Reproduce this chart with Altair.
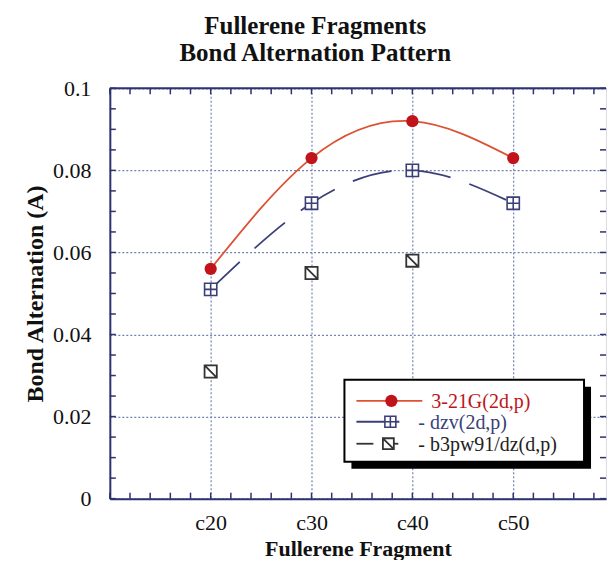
import altair as alt
import pandas as pd

# ---- data ----
fragments = ["c20", "c30", "c40", "c50"]
frag_size = [20, 30, 40, 50]
g321 = [0.056, 0.083, 0.092, 0.083]          # 3-21G(2d,p)
dzv = [0.051, 0.072, 0.080, 0.072]           # dzv(2d,p)
b3_size = [20, 30, 40]
b3pw91 = [0.031, 0.055, 0.058]               # b3pw91/dz(d,p)
legend_labels = ["3-21G(2d,p)", "- dzv(2d,p)", "- b3pw91/dz(d,p)"]
x_ticks = [20, 30, 40, 50]
y_ticks = [0, 0.02, 0.04, 0.06, 0.08, 0.1]
x_minor = [10, 12, 14, 16, 18, 20, 22, 24, 26, 28, 30, 32, 34, 36, 38, 40,
           42, 44, 46, 48, 50, 52, 54, 56, 58]
y_minor = [0, 0.005, 0.01, 0.015, 0.02, 0.025, 0.03, 0.035, 0.04, 0.045, 0.05,
           0.055, 0.06, 0.065, 0.07, 0.075, 0.08, 0.085, 0.09, 0.095, 0.1]

W, H = 497, 411
FONT = "Liberation Serif"
NAVY = "#2d3270"
RED_LINE = "#dc5232"
RED_PT = "#c0141a"
DZV_COL = "#3a3f78"
B3_COL = "#333333"
GRID = "#7482b4"

SQ_PLUS = "M-1,-1H1V1H-1Z M0,-1V1 M-1,0H1"
SQ_SLASH = "M-1,-1H1V1H-1Z M-1,-1L1,1"

main = pd.DataFrame({"frag": fragments, "n": frag_size, "g321": g321, "dzv": dzv})
b3 = pd.DataFrame({"n": b3_size, "v": b3pw91})
xm = pd.DataFrame({"n": x_minor})
ym = pd.DataFrame({"v": y_minor})
one = pd.DataFrame({"k": [0]})

x_scale = alt.Scale(domain=[10, 59.2], nice=False, zero=False)
y_scale = alt.Scale(domain=[0, 0.1], nice=False)

x_axis = alt.Axis(values=x_ticks, labelExpr="'c' + datum.value", grid=True,
                  gridDash=[2, 2], gridColor=GRID, gridWidth=1.2,
                  domain=True, domainColor=NAVY, domainWidth=2, ticks=False,
                  labelPadding=14, labelFont=FONT, labelFontSize=22, labelColor="#111",
                  title="Fullerene Fragment", titleFont=FONT, titleFontSize=22,
                  titleFontWeight="bold", titleColor="#111", titlePadding=5)
y_axis = alt.Axis(values=y_ticks, labelExpr="datum.value + ''", grid=True,
                  gridDash=[2, 2], gridColor=GRID, gridWidth=1.2,
                  domain=True, domainColor=NAVY, domainWidth=2, ticks=False,
                  labelPadding=19, labelFont=FONT, labelFontSize=22, labelColor="#111",
                  title="Bond Alternation (A)", titleFont=FONT, titleFontSize=24,
                  titleFontWeight="bold", titleColor="#111", titlePadding=5)


def X(field="n"):
    return alt.X(f"{field}:Q", scale=x_scale, axis=x_axis)


def Y(field):
    return alt.Y(f"{field}:Q", scale=y_scale, axis=y_axis)


# frame top edge and inward minor ticks
frame_top = alt.Chart(one).mark_rule(color=NAVY, strokeWidth=2).encode(
    x=alt.value(0), x2=alt.value(W), y=alt.value(0))
t_bottom = alt.Chart(xm).mark_rule(color=NAVY, strokeWidth=1.5).encode(
    x=X(), y=alt.value(H), y2=alt.value(H - 6))
t_top = alt.Chart(xm).mark_rule(color=NAVY, strokeWidth=1.5).encode(
    x=X(), y=alt.value(0), y2=alt.value(6))
t_left = alt.Chart(ym).mark_rule(color=NAVY, strokeWidth=1.5).encode(
    y=Y("v"), x=alt.value(0), x2=alt.value(6))
t_right = alt.Chart(ym).mark_rule(color=NAVY, strokeWidth=1.5).encode(
    y=Y("v"), x=alt.value(W - 6), x2=alt.value(W))

red_line = alt.Chart(main).mark_line(color=RED_LINE, strokeWidth=1.8,
                                     interpolate="natural").encode(x=X(), y=Y("g321"))
red_pts = alt.Chart(main).mark_point(shape="circle", size=150, filled=True,
                                     color=RED_PT, opacity=1).encode(x=X(), y=Y("g321"))
dzv_line = alt.Chart(main).mark_line(color=DZV_COL, strokeWidth=1.8, strokeDash=[40, 20],
                                     interpolate="natural").encode(x=X(), y=Y("dzv"))
dzv_pts = alt.Chart(main).mark_point(shape=SQ_PLUS, size=150, filled=True, fill="white",
                                     stroke=DZV_COL, strokeWidth=1.6, opacity=1).encode(
    x=X(), y=Y("dzv"))
b3_pts = alt.Chart(b3).mark_point(shape=SQ_SLASH, size=150, filled=True, fill="white",
                                  stroke=B3_COL, strokeWidth=1.8, opacity=1).encode(
    x=X(), y=Y("v"))

# ---- legend box (drawn) ----
LX0, LX1, LY0, LY1 = 235, 475, 292, 374
rows = [313, 334, 356]
LFS = 20
leg = [
    alt.Chart(one).mark_rect(color="black").encode(
        x=alt.value(LX0 + 7), x2=alt.value(LX1 + 7), y=alt.value(LY0 + 7), y2=alt.value(LY1 + 7)),
    alt.Chart(one).mark_rect(fill="white", stroke="black", strokeWidth=2).encode(
        x=alt.value(LX0), x2=alt.value(LX1), y=alt.value(LY0), y2=alt.value(LY1)),
    # entry 1
    alt.Chart(one).mark_rule(color=RED_LINE, strokeWidth=1.8).encode(
        x=alt.value(LX0 + 12), x2=alt.value(LX0 + 78), y=alt.value(rows[0])),
    alt.Chart(one).mark_point(shape="circle", size=150, filled=True, color=RED_PT, opacity=1).encode(
        x=alt.value(LX0 + 47), y=alt.value(rows[0])),
    alt.Chart(one).mark_text(align="left", baseline="middle", font=FONT, fontSize=LFS,
                             color=RED_PT).encode(
        x=alt.value(LX0 + 87), y=alt.value(rows[0] + 1), text=alt.value(legend_labels[0])),
    # entry 2
    alt.Chart(one).mark_rule(color=DZV_COL, strokeWidth=1.8).encode(
        x=alt.value(LX0 + 12), x2=alt.value(LX0 + 55), y=alt.value(rows[1])),
    alt.Chart(one).mark_point(shape=SQ_PLUS, size=120, filled=True, fill="white", stroke=DZV_COL,
                              strokeWidth=1.6, opacity=1).encode(
        x=alt.value(LX0 + 46), y=alt.value(rows[1])),
    alt.Chart(one).mark_text(align="left", baseline="middle", font=FONT, fontSize=LFS,
                             color=DZV_COL).encode(
        x=alt.value(LX0 + 74), y=alt.value(rows[1] + 1), text=alt.value(legend_labels[1])),
    # entry 3
    alt.Chart(one).mark_rule(color=B3_COL, strokeWidth=1.8).encode(
        x=alt.value(LX0 + 12), x2=alt.value(LX0 + 29), y=alt.value(rows[2])),
    alt.Chart(one).mark_rule(color=B3_COL, strokeWidth=1.8).encode(
        x=alt.value(LX0 + 44), x2=alt.value(LX0 + 54), y=alt.value(rows[2])),
    alt.Chart(one).mark_point(shape=SQ_SLASH, size=120, filled=True, fill="white", stroke=B3_COL,
                              strokeWidth=1.8, opacity=1).encode(
        x=alt.value(LX0 + 44), y=alt.value(rows[2])),
    alt.Chart(one).mark_text(align="left", baseline="middle", font=FONT, fontSize=LFS,
                             color="#222222").encode(
        x=alt.value(LX0 + 74), y=alt.value(rows[2] + 1), text=alt.value(legend_labels[2])),
]

chart = alt.layer(
    frame_top, t_bottom, t_top, t_left, t_right,
    red_line, dzv_line, dzv_pts, b3_pts, red_pts,
    *leg
).properties(
    width=W, height=H,
    padding={"left": 15, "top": 6, "right": 0, "bottom": 0},
    title=alt.Title(["Fullerene Fragments", "Bond Alternation Pattern"],
                    font=FONT, fontSize=25, fontWeight="bold", color="#111",
                    anchor="middle", frame="bounds", lineHeight=27, offset=11),
).configure_view(
    stroke=None
).configure(background="white")

chart.save("out.html", embed_options={"renderer": "svg", "actions": False})
